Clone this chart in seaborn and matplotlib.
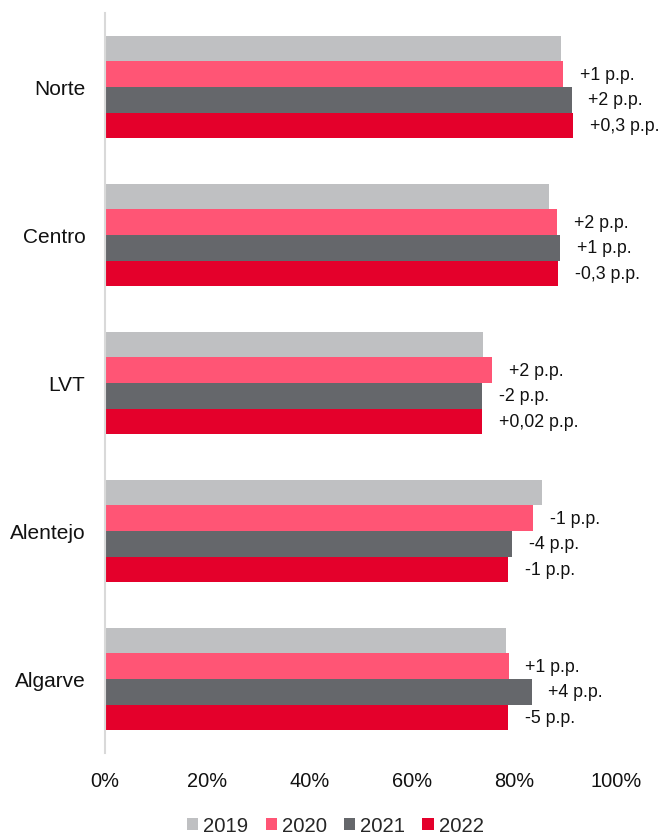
import matplotlib
matplotlib.use("Agg")
import matplotlib.pyplot as plt
from matplotlib.patches import Patch
from matplotlib.ticker import FuncFormatter
import seaborn as sns
import pandas as pd

regions = ["Norte", "Centro", "LVT", "Alentejo", "Algarve"]
years = ["2019", "2020", "2021", "2022"]

occ_2019 = [89.3, 86.9, 73.9, 85.4, 78.5]
occ_2020 = [89.6, 88.4, 75.8, 83.8, 79.0]
occ_2021 = [91.3, 89.0, 73.8, 79.6, 83.5]
occ_2022 = [91.6, 88.7, 73.8, 78.9, 78.9]

delta_2020 = ["+1 p.p.", "+2 p.p.", "+2 p.p.", "-1 p.p.", "+1 p.p."]
delta_2021 = ["+2 p.p.", "+1 p.p.", "-2 p.p.", "-4 p.p.", "+4 p.p."]
delta_2022 = ["+0,3 p.p.", "-0,3 p.p.", "+0,02 p.p.", "-1 p.p.", "-5 p.p."]

colors = ["#BFC0C2", "#FF5575", "#65676B", "#E4002B"]
x_ticks = [0, 20, 40, 60, 80, 100]

series = [occ_2019, occ_2020, occ_2021, occ_2022]
df = pd.DataFrame({
    "Região": regions * len(years),
    "Ano": [y for y in years for _ in regions],
    "Taxa": [v for s in series for v in s],
})

sns.set_theme(style="white")
plt.rcParams["font.family"] = ["Liberation Sans", "DejaVu Sans"]

fig = plt.figure(figsize=(6.64, 8.37), dpi=100)
ax = fig.add_axes([0.158, 0.0992, 0.770, 0.8841])

sns.barplot(data=df, x="Taxa", y="Região", hue="Ano", order=regions,
            hue_order=years, palette=colors, orient="h", width=0.69,
            gap=0, saturation=1, linewidth=0, legend=False, ax=ax)

# change labels next to the 2020, 2021 and 2022 bars
for container, labels in zip(ax.containers[1:], [delta_2020, delta_2021, delta_2022]):
    for bar, text in zip(container, labels):
        ax.annotate(text, (bar.get_width(), bar.get_y() + bar.get_height() / 2),
                    xytext=(12, 0), textcoords="offset points",
                    va="center", ha="left", fontsize=12.8, color="#111111",
                    annotation_clip=False)

ax.set_xlim(0, 100)
ax.set_ylim(len(regions) - 0.5, -0.5)
ax.set_xticks(x_ticks)
ax.xaxis.set_major_formatter(FuncFormatter(lambda v, _: f"{v:.0f}%"))
ax.set_xlabel("")
ax.set_ylabel("")
ax.tick_params(axis="x", length=0, pad=13, labelsize=14.4, labelcolor="#111111")
ax.tick_params(axis="y", length=0, pad=14, labelsize=15, labelcolor="#111111")

for side in ["top", "right", "bottom"]:
    ax.spines[side].set_visible(False)
ax.spines["left"].set_color("#D9D9D9")
ax.spines["left"].set_linewidth(1.5)

handles = [Patch(facecolor=c, edgecolor="none", label=y) for c, y in zip(colors, years)]
fig.legend(handles=handles, loc="center", bbox_to_anchor=(0.505, 1 - 827 / 837),
           ncol=4, frameon=False, fontsize=14.6, handlelength=0.55,
           handleheight=0.55, handletextpad=0.25, columnspacing=0.85)

fig.savefig("out.png", dpi=100)
